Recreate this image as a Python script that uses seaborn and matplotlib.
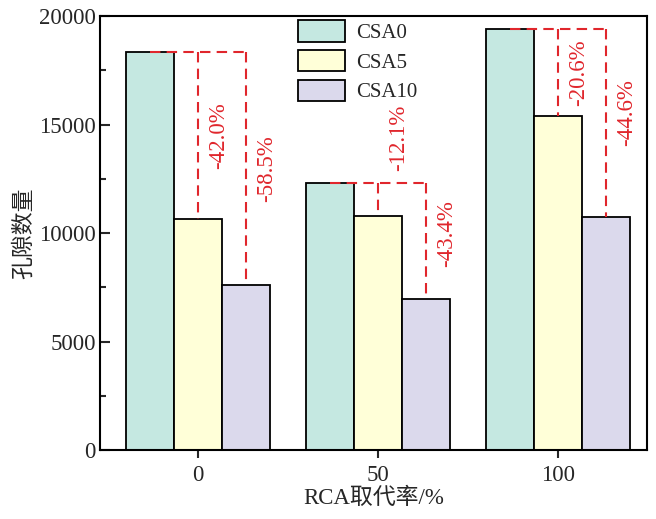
import matplotlib
matplotlib.use("Agg")
import matplotlib.pyplot as plt
from matplotlib.ticker import AutoMinorLocator, MultipleLocator
import numpy as np
import pandas as pd
import seaborn as sns

# Replacement ratio groups and the three series
groups = ["0", "50", "100"]
series = ["CSA0", "CSA5", "CSA10"]
csa0 = [18350, 12290, 19390]
csa5 = [10640, 10800, 15390]
csa10 = [7610, 6960, 10740]
colors = ["#c5e8e1", "#ffffd8", "#dbd9ec"]
red = "#e0262c"

df = pd.DataFrame({
    "group": groups * 3,
    "series": [s for s in series for _ in groups],
    "value": csa0 + csa5 + csa10,
})

sns.set_theme(style="ticks")
plt.rcParams["font.family"] = ["Liberation Serif", "Noto Sans CJK SC"]
plt.rcParams["axes.unicode_minus"] = False

fig = plt.figure(figsize=(6.56, 5.19), dpi=100)
ax = fig.add_axes([0.1524, 0.133, 0.834, 0.836])

sns.barplot(data=df, x="group", y="value", hue="series", order=groups,
            hue_order=series, palette=colors, edgecolor="black",
            linewidth=1.3, width=0.8, gap=0, saturation=1, ax=ax,
            legend=True, errorbar=None)

ax.set_xlim(-0.544, 2.494)
ax.set_ylim(0, 20000)
ax.yaxis.set_major_locator(MultipleLocator(5000))
ax.yaxis.set_minor_locator(AutoMinorLocator(2))

for side in ["left", "right", "top", "bottom"]:
    ax.spines[side].set_visible(True)
    ax.spines[side].set_linewidth(1.5)
    ax.spines[side].set_color("black")

ax.tick_params(axis="y", which="major", direction="in", length=7, width=1.5,
               labelsize=16.5, pad=3, right=False)
ax.tick_params(axis="y", which="minor", direction="in", length=4.5, width=1.5,
               right=False)
ax.tick_params(axis="x", which="major", direction="out", length=6, width=1.5,
               labelsize=16.5, pad=5, top=False)
ax.tick_params(axis="x", which="minor", bottom=False, top=False)

ax.set_xlabel("RCA取代率/%", fontsize=16.5, labelpad=1)
ax.set_ylabel("孔隙数量", fontsize=16.5, labelpad=3)

# Bar centres per series, read back from the drawn containers
centres = [[p.get_x() + p.get_width() / 2 for p in c] for c in ax.containers]
tops = [[p.get_height() for p in c] for c in ax.containers]

# small vertical nudges for the second percentage label of each group
nudge = [0, 350, 500]

dash = dict(color=red, lw=1.5, dashes=(5, 3))
for g in range(len(groups)):
    base = tops[0][g]
    x0 = centres[0][g]
    x2 = centres[2][g]
    ax.plot([x0, x2], [base, base], **dash)
    for k in (1, 2):
        xk = centres[k][g]
        yk = tops[k][g]
        ax.plot([xk, xk], [base, yk], **dash)
        pct = (yk / base - 1) * 100
        if base - yk < 3500:
            ty = base + 2100
        else:
            ty = (base + yk) / 2 + (nudge[g] if k == 2 else 0)
        ax.text(xk + 0.115, ty, f"{pct:.1f}%", rotation=90, color=red,
                fontsize=16.5, ha="center", va="center")

handles, labels = ax.get_legend_handles_labels()
ax.legend(handles, labels, loc="upper left", bbox_to_anchor=(0.362, 0.99),
          frameon=False, fontsize=15, handlelength=2.25, handleheight=1.2,
          labelspacing=0.33, handletextpad=0.55, borderpad=0, borderaxespad=0)

fig.savefig("out.png", dpi=100)
